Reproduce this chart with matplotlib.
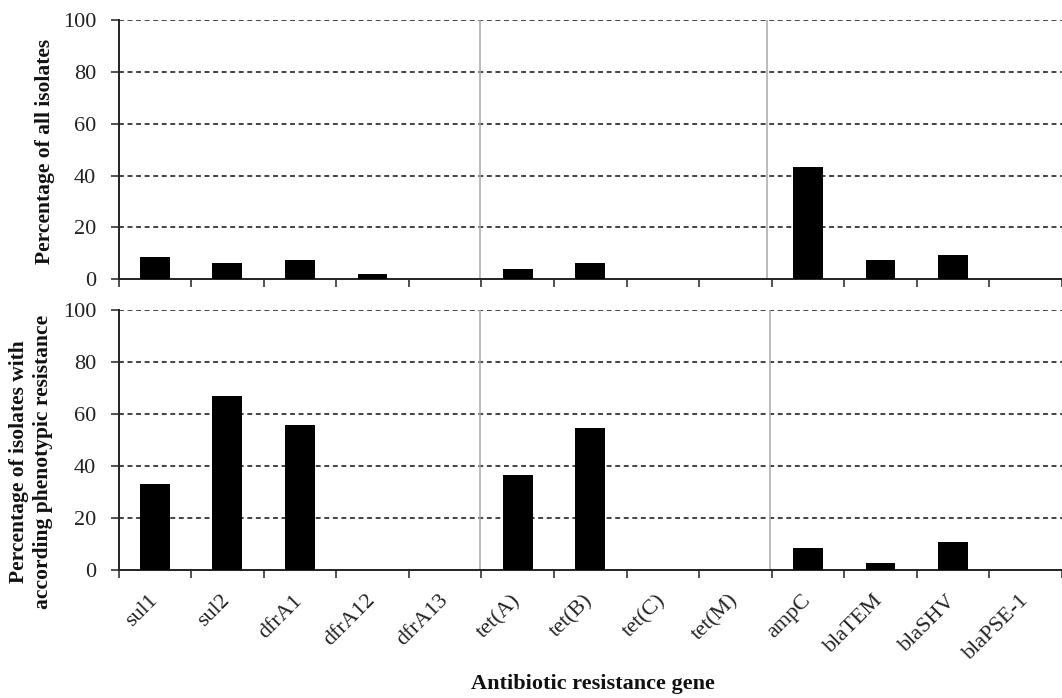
import matplotlib
matplotlib.use("Agg")
import matplotlib.pyplot as plt
import numpy as np

genes = ["sul1", "sul2", "dfrA1", "dfrA12", "dfrA13", "tet(A)", "tet(B)", "tet(C)",
         "tet(M)", "ampC", "blaTEM", "blaSHV", "blaPSE-1"]
pct_all = [8.5, 6.4, 7.5, 2.1, 0, 4.1, 6.4, 0, 0, 43.2, 7.5, 9.4, 0]
pct_pheno = [33.2, 66.9, 55.7, 0, 0, 36.7, 54.7, 0, 0, 8.4, 2.6, 10.7, 0]
yticks = [0, 20, 40, 60, 80, 100]
group_bounds = [5, 9]

plt.rcParams['font.family'] = ['Liberation Serif', 'DejaVu Serif']

W, H = 1062, 698
fig = plt.figure(figsize=(W / 100, H / 100), dpi=100)
left = 118.5 / W
ax_top = fig.add_axes([left, 1 - 279.3 / H, 1 - left, 259.3 / H])
ax_bot = fig.add_axes([left, 1 - 570 / H, 1 - left, 260 / H])

x = np.arange(len(genes)) + 0.5
xmax = (W - 118.5) / 73.0

for ax, vals, off in [(ax_top, pct_all, [-0.02, -0.07]), (ax_bot, pct_pheno, [-0.02, -0.02])]:
    ax.set_xlim(0, xmax)
    ax.set_ylim(0, 100)
    for yv in yticks[1:]:
        ax.axhline(yv, color='#111111', linestyle=(0, (3.2, 2.4)), linewidth=1.1, zorder=1)
    for b, o in zip(group_bounds, off):
        ax.axvline(b + o, color='#a8a8a8', linewidth=1.1, zorder=1)
    ax.bar(x, vals, width=0.41, color='black', zorder=3)
    for s in ['top', 'right']:
        ax.spines[s].set_visible(False)
    ax.spines['left'].set_linewidth(1.4)
    ax.spines['left'].set_color('#222222')
    ax.spines['bottom'].set_linewidth(1.4)
    ax.spines['bottom'].set_color('#222222')
    ax.set_yticks(yticks)
    ax.set_xticks(np.arange(0, len(genes) + 1))
    ax.tick_params(axis='y', direction='out', length=6, width=1.1, pad=10, labelsize=16,
                   colors='#222222')
    ax.tick_params(axis='x', direction='out', length=6, width=1.1, colors='#222222')
    ax.set_xticklabels([])

ax_bot.set_xticks(x, minor=True)
ax_bot.set_xticklabels(genes, minor=True, rotation=45, ha='right', va='center',
                       rotation_mode='anchor', fontsize=16, color='#222222')
ax_bot.tick_params(axis='x', which='minor', length=0, pad=20)

fig.text(45 / W, 1 - 151 / H, "Percentage of all isolates", rotation=90, ha='center', va='center',
         fontsize=15.5, fontweight='bold', color='#111111')
fig.text(31 / W, 1 - 462 / H, "Percentage of isolates with\naccording phenotypic resistance",
         rotation=90, ha='center', va='center', fontsize=15.5, fontweight='bold',
         linespacing=1.25, color='#111111')
fig.text(593 / W, 1 - 684 / H, "Antibiotic resistance gene", ha='center', va='center',
         fontsize=16, fontweight='bold', color='#111111')

fig.savefig("out.png", dpi=100)
